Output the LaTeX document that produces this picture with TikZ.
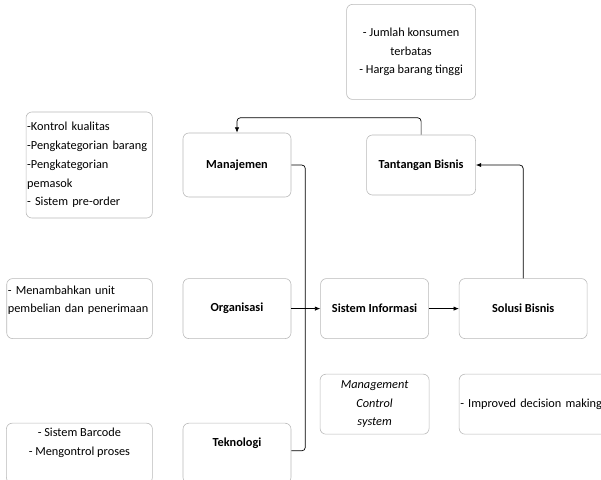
\documentclass[tikz,border=0pt]{standalone}
\usepackage{fontspec}
\setmainfont{Carlito}
\usetikzlibrary{positioning, arrows.meta}

\begin{document}
\begin{tikzpicture}[
    x=0.03cm, y=-0.03cm,
    node distance=2.43cm and 0.87cm,
    block/.style={rectangle, draw=gray!55, line width=0.5pt, rounded corners=5pt, minimum width=3.24cm, minimum height=1.8cm, align=center, font=\fontsize{10.5}{16}\selectfont\bfseries, inner sep=1pt},
    note/.style={block, font=\fontsize{10.5}{16}\selectfont},
    arr/.style={-{Latex[length=1.6mm, width=1.3mm]}, line width=0.6pt, rounded corners=3pt},
    wire/.style={line width=0.6pt, rounded corners=3pt},
]
\useasboundingbox (0,0) rectangle (601,479);

\node[block, minimum height=1.92cm] (manajemen) at (237,165) {Manajemen};
\node[block, below=2.43cm of manajemen] (organisasi) {Organisasi};
\node[block, below=2.52cm of organisasi, text depth=19pt] (teknologi) {Teknologi};
\node[block, right=0.87cm of organisasi] (sistem) {Sistem Informasi};
\node[block, right=0.9cm of sistem, minimum width=3.84cm] (solusi) {Solusi Bisnis};
\node[block, right=2.25cm of manajemen, minimum width=3.27cm] (tantangan) {Tantangan Bisnis};
\node[note, above=1.05cm of tantangan.north east, anchor=south east, minimum width=3.87cm, minimum height=2.85cm] (jumlah) {- Jumlah konsumen\\terbatas\\- Harga barang tinggi};

\node[note, left=0.9cm of manajemen, minimum height=3.18cm, text width=3.72cm, align=left] (kontrol) {-Kontrol kualitas\\-Pengkategorian barang\\-Pengkategorian\\pemasok\\- Sistem pre-order};
\node[note, left=0.9cm of organisasi, text width=4.3cm, align=left, text depth=32pt] (menambah) {- Menambahkan unit\\pembelian dan penerimaan};
\node[note, left=0.9cm of teknologi, minimum width=4.38cm, text depth=19pt] (barcode) {- Sistem Barcode\\- Mengontrol proses};

\node[note, below=1.05cm of sistem, minimum width=3.27cm, font=\fontsize{10.5}{16}\selectfont\itshape] (mcs) {Management\\Control\\system};
\node[note, below=1.05cm of solusi.south west, anchor=north west, text width=4.38cm, align=left] (improved) {- Improved decision making};

% joins into Sistem Informasi
\coordinate[right=0.42cm of organisasi.east] (join);
\draw[wire] (manajemen.east) -| (join);
\draw[wire] ([yshift=2pt]teknologi.east) -| (join);
\draw[arr] (organisasi) -- (sistem);
\draw[arr] (sistem) -- (solusi);

% feedback loops
\draw[arr] (solusi.north) |- (tantangan.east);
\draw[arr] (tantangan.north) -- ++(0,-17) -| (manajemen.north);
\end{tikzpicture}
\end{document}
